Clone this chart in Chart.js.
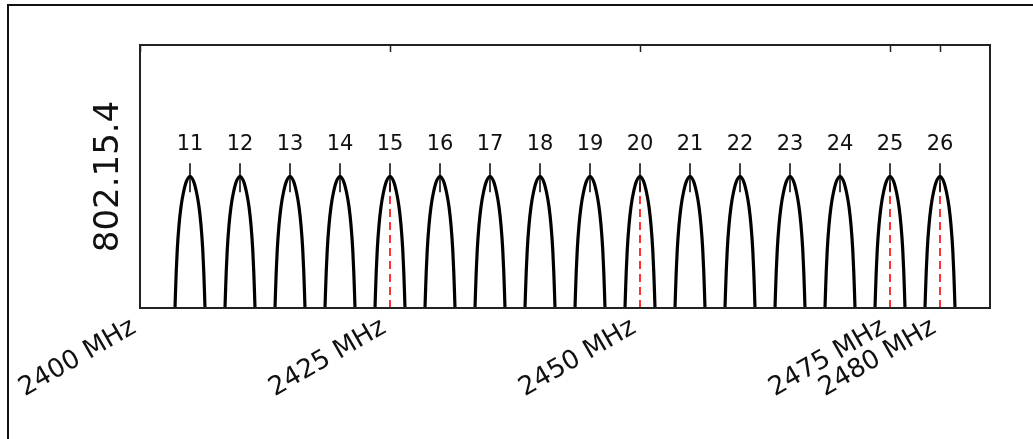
<!DOCTYPE html>
<html>
<head>
<meta charset="utf-8">
<script src="https://cdn.jsdelivr.net/npm/chart.js@4.4.1/dist/chart.umd.min.js"></script>
<style>
  html, body { margin: 0; padding: 0; background: #fff; }
  #wrap { position: relative; width: 1033px; height: 439px; overflow: hidden; }
  #frame {
    position: absolute; left: 7px; top: 4px; right: -4px; bottom: -4px;
    border-left: 2px solid #111; border-top: 2px solid #111;
    pointer-events: none;
  }
</style>
</head>
<body>
<div id="wrap">
  <canvas id="chartMain"></canvas>
  <div id="frame"></div>
</div>
<script>
const channels = [11, 12, 13, 14, 15, 16, 17, 18, 19, 20, 21, 22, 23, 24, 25, 26];
const centerFreqs = [2405, 2410, 2415, 2420, 2425, 2430, 2435, 2440, 2445, 2450, 2455, 2460, 2465, 2470, 2475, 2480];
const markedChannels = [15, 20, 25, 26];
const tickFreqs = [2400, 2425, 2450, 2475, 2480];

// arch shape: offset from centre (MHz) and relative height
const archOffsets = [-1.5, -1.45, -1.38, -1.27, -1.1, -0.9, -0.65, -0.35, 0, 0.35, 0.65, 0.9, 1.1, 1.27, 1.38, 1.45, 1.5];
const archHeights = [0, 0.12, 0.27, 0.45, 0.63, 0.77, 0.88, 0.965, 1, 0.965, 0.88, 0.77, 0.63, 0.45, 0.27, 0.12, 0];

const font = "'DejaVu Sans', sans-serif";
const labelLevel = 1.24;

const datasets = [];

centerFreqs.forEach((c, i) => {
  datasets.push({
    label: 'ch' + channels[i],
    data: archOffsets.map((o, k) => ({ x: c + o, y: archHeights[k] })),
    borderColor: '#000',
    borderWidth: 3.2,
    pointRadius: 0,
    cubicInterpolationMode: 'monotone',
    order: 1
  });
  // short marker line through the top of each arch
  datasets.push({
    label: 'tick' + channels[i],
    data: [{ x: c, y: 0.88 }, { x: c, y: 1.1 }],
    borderColor: '#000',
    borderWidth: 1.5,
    pointRadius: 0,
    order: 0
  });
});

markedChannels.forEach(ch => {
  const c = centerFreqs[channels.indexOf(ch)];
  datasets.push({
    label: 'mark' + ch,
    data: [{ x: c, y: 0 }, { x: c, y: 1.0 }],
    borderColor: '#ff0000',
    borderWidth: 1.6,
    borderDash: [8, 5],
    pointRadius: 0,
    order: 2
  });
});

const boxAndLabels = {
  id: 'boxAndLabels',
  afterDraw: chart => {
    const ctx = chart.ctx;
    const area = chart.chartArea;
    const xs = chart.scales.x;
    const ys = chart.scales.y;
    ctx.save();

    // channel numbers
    ctx.fillStyle = '#111';
    ctx.font = '21px ' + font;
    ctx.textAlign = 'center';
    ctx.textBaseline = 'middle';
    centerFreqs.forEach((c, i) => {
      ctx.fillText(String(channels[i]), xs.getPixelForValue(c), ys.getPixelForValue(labelLevel));
    });

    // ticks on top edge
    ctx.strokeStyle = '#222';
    ctx.lineWidth = 1.5;
    tickFreqs.forEach(f => {
      const px = Math.round(xs.getPixelForValue(f)) + 0.5;
      ctx.beginPath();
      ctx.moveTo(px, area.top);
      ctx.lineTo(px, area.top + 7);
      ctx.stroke();
    });

    // plot frame
    ctx.lineWidth = 2;
    ctx.strokeStyle = '#222';
    ctx.strokeRect(area.left, area.top, area.right - area.left, area.bottom - area.top);
    ctx.restore();
  }
};

const config = {
  type: 'line',
  data: { datasets: datasets },
  options: {
    responsive: true,
    maintainAspectRatio: false,
    animation: false,
    layout: { padding: { left: 0, right: 43, top: 45, bottom: 0 } },
    plugins: {
      legend: { display: false },
      tooltip: { enabled: false }
    },
    scales: {
      x: {
        type: 'linear',
        min: 2400,
        max: 2485,
        grid: { display: false, drawTicks: false },
        border: { display: false },
        afterBuildTicks: scale => {
          scale.ticks = tickFreqs.map(v => ({ value: v }));
        },
        afterFit: scale => { scale.height = 131; },
        ticks: {
          autoSkip: false,
          minRotation: 30,
          maxRotation: 30,
          padding: 4,
          labelOffset: -6,
          color: '#111',
          font: { family: font, size: 26 },
          callback: v => v + ' MHz'
        }
      },
      y: {
        min: 0,
        max: 2,
        grid: { display: false, drawTicks: false },
        border: { display: false },
        ticks: { display: false },
        afterFit: scale => { scale.width = 140; },
        title: {
          display: true,
          text: '802.15.4',
          color: '#111',
          padding: 89,
          font: { family: font, size: 34 }
        }
      }
    }
  },
  plugins: [boxAndLabels]
};

const chartMain = new Chart(document.getElementById('chartMain'), config);
</script>
</body>
</html>
